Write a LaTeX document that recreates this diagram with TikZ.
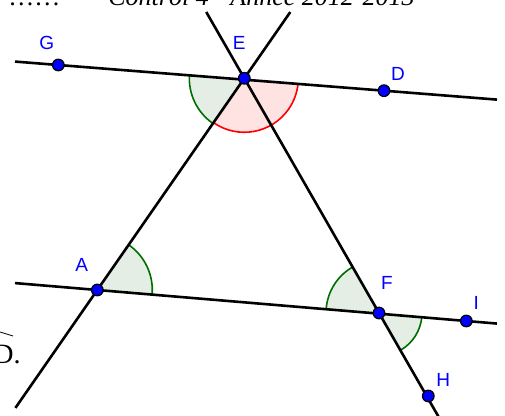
\documentclass[tikz,border=0pt]{standalone}
\usepackage{fontspec}
\setmainfont{Liberation Serif}
\newfontfamily\ggfont{Liberation Sans}
\usetikzlibrary{calc,angles}
\definecolor{ggblue}{RGB}{0,0,255}
\definecolor{ggdark}{RGB}{0,110,0}
\definecolor{gglight}{RGB}{228,238,228}
\definecolor{ggred}{RGB}{255,0,0}
\definecolor{gglred}{RGB}{255,226,226}

\begin{document}
\begin{tikzpicture}[x=0.5pt, y=-0.5pt,
  ln/.style={line width=1.3pt, black},
  ggpt/.style={circle, draw=black, fill=ggblue, line width=0.6pt,
               inner sep=0pt, minimum size=5.8pt},
  ggl/.style={text=ggblue, font=\ggfont\fontsize{9.5}{10}\selectfont, inner sep=0pt},
  ang/.style={draw=ggdark, fill=gglight, line width=0.8pt},
  angr/.style={draw=ggred, fill=gglred, line width=0.8pt}
]
  \useasboundingbox (0,0) rectangle (505,416);
  \coordinate (G) at (58.3,65);
  \coordinate (E) at (244.3,78.3);
  \coordinate (D) at (384,90.7);
  \coordinate (A) at (97.3,290);
  \coordinate (F) at (379,313);
  \coordinate (I) at (466.3,321);
  \coordinate (H) at (428.3,396);

  \pic[ang, angle radius=27.5pt] {angle = G--E--A};
  \pic[angr, angle radius=27pt] {angle = A--E--D};
  \pic[ang, angle radius=27.5pt] {angle = I--A--E};
  \pic[ang, angle radius=26.5pt] {angle = E--F--A};
  \pic[ang, angle radius=21.5pt] {angle = H--F--I};

  \draw[ln] ($(G)!-0.133!(D)$) -- ($(G)!1.347!(D)$);
  \draw[ln] ($(A)!-0.223!(I)$) -- ($(A)!1.083!(I)$);
  \draw[ln] ($(A)!-0.557!(E)$) -- ($(A)!1.313!(E)$);
  \draw[ln] ($(E)!-0.2825!(F)$) -- ($(E)!1.45!(F)$);

  \foreach \p in {G,E,D,A,F,I,H}
    \node[ggpt] (\p pt) at (\p) {};

  \node[ggl] (Gl) at ($(G)+(-11.6,-22.3)$) {G};
  \node[ggl] (El) at ($(E)+(-5,-35.6)$) {E};
  \node[ggl] (Dl) at ($(D)+(14,-17)$) {D};
  \node[ggl] (Al) at ($(A)+(-15.6,-25)$) {A};
  \node[ggl] (Fl) at ($(F)+(8,-30)$) {F};
  \node[ggl] (Il) at ($(I)+(10,-18)$) {I};
  \node[ggl] (Hl) at ($(H)+(15,-16)$) {H};

  \node[anchor=base west, inner sep=0pt, font=\fontsize{13}{15}\selectfont]
    (pts) at (8,6) {\ldots\ldots};
  \node[anchor=base west, inner sep=0pt, font=\itshape\fontsize{13}{15}\selectfont]
    (titre) at (108,6) {Contrôl 4 - Année 2012-2013};
  \node[anchor=base east, inner sep=0pt, font=\fontsize{14}{16}\selectfont]
    (frag) at (21,364) {D.};
  \draw[line width=0.4pt] (0,332) -- (13,336);
\end{tikzpicture}
\end{document}
